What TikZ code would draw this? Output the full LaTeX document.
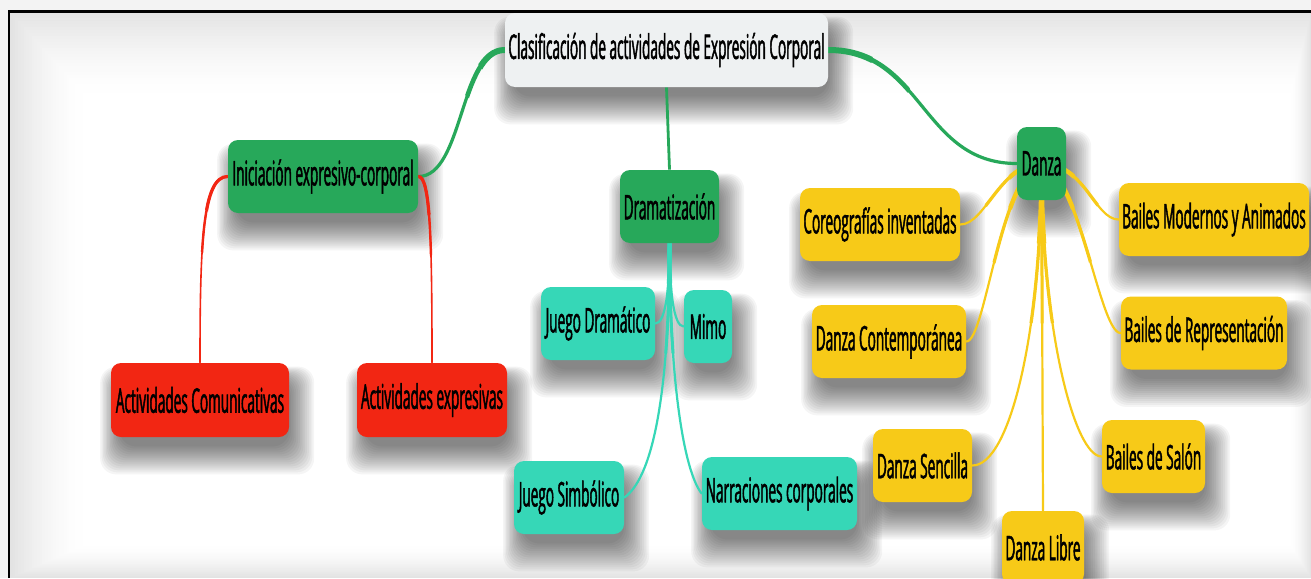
\documentclass[tikz,border=0pt]{standalone}
\usepackage{fontspec}
\setmainfont{Open Sans}[FakeStretch=0.40,FakeBold=1.3]
\usetikzlibrary{calc}
\definecolor{cgreen}{HTML}{27A85A}
\definecolor{cred}{HTML}{F22613}
\definecolor{cteal}{HTML}{36D7B7}
\definecolor{cyellow}{HTML}{F7CA18}
\definecolor{croot}{HTML}{EEF1F2}
\definecolor{couter}{HTML}{F3F3F3}
\pgfdeclarelayer{bgl}
\pgfdeclarelayer{shadowl}
\pgfdeclarelayer{connl}
\pgfsetlayers{bgl,shadowl,connl,main}
% #1 colour, #2 thick width, #3 mid width, #4 thin width, #5 start, #6 rest of path, #7 radius
\newcommand\taperpath[7]{%
  \draw[#1, line width=#4, line cap=round] #5 #6;
  \begin{scope}\clip #5 circle (#7); \draw[#1, line width=#3, line cap=round] #5 #6; \end{scope}
  \begin{scope}\clip #5 circle (#7/2); \draw[#1, line width=#2, line cap=round] #5 #6; \end{scope}
}
\begin{document}
\begin{tikzpicture}[x=0.5pt,y=-0.5pt,
  box/.style={rounded corners=5pt, inner sep=0pt, minimum height=36.5pt,
    font=\fontsize{17}{19}\selectfont, text=black},
  rootbox/.style={box, fill=croot},
  greenbox/.style={box, fill=cgreen},
  redbox/.style={box, fill=cred},
  tealbox/.style={box, fill=cteal},
  yellowbox/.style={box, fill=cyellow},
  shadowstep/.style={fill=black, fill opacity=0.04, rounded corners=8pt}]
\useasboundingbox (0,0) rectangle (1311,578);
% background
\begin{pgfonlayer}{bgl}
\fill[couter] (0,0) rectangle (1311,578);
\foreach \d in {0,3,...,84}{
  \pgfmathsetmacro\g{11*(1-\d/84)^1.6}
  \fill[black!\g] ({10+0.9*\d},{12+\d}) rectangle ({1311-0.25*\d},{578-0.4*\d});
}
\draw[black, line width=1.1pt] (9,578) -- (9,11.5) -- (1311,11.5);
\end{pgfonlayer}
% nodes
\node[rootbox, minimum width=161.5pt, minimum height=37pt] (root) at (666.5,50) {Clasificación de actividades de Expresión Corporal};
\node[greenbox, minimum width=95pt] (inic) at (323,176.5) {Iniciación expresivo-corporal};
\node[greenbox, minimum width=49.5pt] (dram) at (669.5,206.5) {Dramatización};
\node[greenbox, minimum width=24.5pt] (danza) at (1041.5,163.5) {Danza};
\node[redbox, minimum width=89pt, minimum height=37pt] (acom) at (200,400) {Actividades Comunicativas};
\node[redbox, minimum width=75pt, minimum height=37pt] (aexp) at (432,400) {Actividades expresivas};
\node[tealbox, minimum width=57pt] (jdram) at (598,323.5) {Juego Dramático};
\node[tealbox, minimum width=24pt] (mimo) at (708,326.5) {Mimo};
\node[tealbox, minimum width=55pt] (jsim) at (569,497.5) {Juego Simbólico};
\node[tealbox, minimum width=77.5pt] (narr) at (779.5,493.5) {Narraciones corporales};
\node[yellowbox, minimum width=80pt] (coreo) at (880,224.5) {Coreografías inventadas};
\node[yellowbox, minimum width=77pt] (dcont) at (889,341.5) {Danza Contemporánea};
\node[yellowbox, minimum width=49.5pt] (dsen) at (922.5,465.5) {Danza Sencilla};
\node[yellowbox, minimum width=41pt] (dlib) at (1043,547.5) {Danza Libre};
\node[yellowbox, minimum width=95pt] (bmod) at (1214,219.5) {Bailes Modernos y Animados};
\node[yellowbox, minimum width=83pt] (brep) at (1204,333) {Bailes de Representación};
\node[yellowbox, minimum width=51.5pt] (bsal) at (1153.5,456.5) {Bailes de Salón};
% shadows
\begin{pgfonlayer}{shadowl}
\foreach \n in {root,inic,dram,danza,acom,aexp,jdram,mimo,jsim,narr,coreo,dcont,dsen,dlib,bmod,brep,bsal}{
  \foreach \s in {-6,-4,...,22}{
    \path[shadowstep] ($(\n.north west)+(5-0.7*\s,15-0.5*\s)$) rectangle ($(\n.south east)+(5+0.9*\s,15+\s)$);
  }
}
\end{pgfonlayer}
% connectors
\begin{pgfonlayer}{connl}
\taperpath{cgreen}{3pt}{2.3pt}{1.6pt}{(root.west)}{.. controls +(-45,0) and +(45,0) .. (inic.east)}{60}
\taperpath{cgreen}{3pt}{2.3pt}{1.6pt}{(root.east)}{.. controls +(95,0) and +(-95,0) .. (danza.west)}{90}
\draw[cgreen, line width=1.4pt] (root.south) -- (dram.north);
\taperpath{cred}{1.6pt}{1.2pt}{0.8pt}{(inic.west)}{.. controls +(-25,0) and +(0,-120) .. (acom.north)}{80}
\taperpath{cred}{1.6pt}{1.2pt}{0.8pt}{(inic.east)}{.. controls +(12,0) and +(0,-120) .. (aexp.north)}{80}
\taperpath{cteal}{2pt}{1.5pt}{1.1pt}{(dram.south)}{.. controls +(0,47) and +(10,0) .. (jdram.east)}{40}
\taperpath{cteal}{2pt}{1.5pt}{1.1pt}{(dram.south)}{.. controls +(0,47) and +(-10,0) .. (mimo.west)}{40}
\taperpath{cteal}{2pt}{1.5pt}{1.1pt}{(dram.south)}{.. controls +(0,137) and +(31,-22) .. (jsim.east)}{110}
\taperpath{cteal}{2pt}{1.5pt}{1.1pt}{(dram.south)}{.. controls +(0,137) and +(-18,-23) .. (narr.west)}{110}
\taperpath{cyellow}{2.2pt}{1.6pt}{1.1pt}{(danza.center)}{.. controls +(-41.5,0) and +(25,0) .. (coreo.east)}{70}
\taperpath{cyellow}{2.2pt}{1.6pt}{1.1pt}{(danza.center)}{.. controls +(-41.5,11.5) and +(19,0) .. (dcont.east)}{110}
\taperpath{cyellow}{2.2pt}{1.6pt}{1.1pt}{(danza.center)}{.. controls +(0,166.5) and +(38,0) .. (dsen.east)}{160}
\taperpath{cyellow}{2pt}{1.5pt}{1.1pt}{(danza.center)}{-- (dlib.north)}{160}
\taperpath{cyellow}{2.2pt}{1.6pt}{1.1pt}{(danza.center)}{.. controls +(43.5,0) and +(-24,0) .. (bmod.west)}{70}
\taperpath{cyellow}{2.2pt}{1.6pt}{1.1pt}{(danza.center)}{.. controls +(38.5,11.5) and +(-21,0) .. (brep.west)}{110}
\taperpath{cyellow}{2.2pt}{1.6pt}{1.1pt}{(danza.center)}{.. controls +(0,166.5) and +(-27,0) .. (bsal.west)}{160}
\end{pgfonlayer}
\end{tikzpicture}
\end{document}
